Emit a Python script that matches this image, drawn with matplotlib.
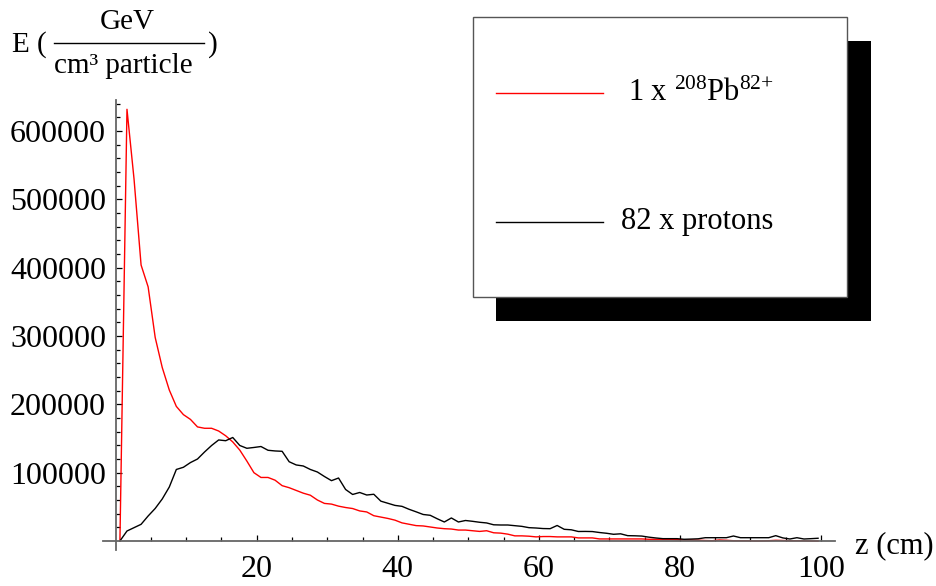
import numpy as np
import matplotlib.pyplot as plt
from matplotlib.patches import Rectangle
from matplotlib.lines import Line2D
from matplotlib.ticker import FixedLocator

plt.rcParams['font.family'] = 'Liberation Serif'
plt.rcParams['mathtext.fontset'] = 'custom'
plt.rcParams['mathtext.rm'] = 'Liberation Serif'
plt.rcParams['mathtext.it'] = 'Liberation Serif:italic'

# z positions (cm) of the samples
z = np.arange(100) + 0.6

# energy deposit, 1 x 208Pb82+
pb_vals = [0, 632000, 530000, 404000, 372000, 298000, 254000, 221000, 197000, 185000,
           178000, 167000, 165000, 165000, 161000, 154000, 145000, 133000, 117000, 100000,
           93000, 93000, 89000, 81000, 78000, 74000, 70000, 67000, 60000, 55000,
           54000, 51000, 49000, 47500, 44000, 42500, 37000, 35000, 33000, 30500,
           26500, 24500, 22500, 22000, 20500, 19000, 18000, 17500, 16000, 16000,
           15000, 14000, 15000, 12000, 11500, 10000, 7500, 7500, 7000, 6000,
           6500, 6500, 6000, 6000, 6000, 4500, 4500, 4500, 3000, 3000,
           3000, 3000, 3000, 3000, 3000, 2500, 2500, 2500, 2500, 2000,
           1500, 1500, 1200, 700, 400, 1500, 1000, 400, 400, 400,
           0, 100, 400, 1000, 700, 400, 400, 300, 0, 0]

# energy deposit, 82 x protons
p_vals = [0, 14600, 19500, 24400, 36600, 47600, 61500, 79000, 104700, 107900,
          114800, 120000, 130300, 139800, 147900, 146800, 151500, 139800, 135700, 136900,
          138300, 132800, 131800, 131300, 116000, 111300, 109800, 104700, 101000, 94400,
          88300, 92200, 75400, 68100, 71000, 67300, 68400, 58300, 55200, 52100,
          50700, 46400, 42700, 38800, 37600, 32500, 27800, 33700, 27800, 30000,
          28800, 27400, 26400, 23700, 23400, 23400, 22400, 21400, 19500, 19000,
          18200, 18000, 22700, 17100, 16400, 13900, 14000, 13800, 12400, 11300,
          9800, 10500, 7800, 7600, 7200, 5600, 4400, 3400, 3400, 3400,
          2500, 2800, 3200, 4800, 4800, 4800, 4800, 7300, 4800, 4800,
          4800, 4800, 4800, 7800, 4500, 2900, 4800, 2900, 3400, 4000]

x_major = [20, 40, 60, 80, 100]
y_major = [100000, 200000, 300000, 400000, 500000, 600000]

W, H = 936, 586
fig = plt.figure(figsize=(W / 100, H / 100), dpi=100)


def fx(px):
    return px / W


def fy(py):
    return 1 - py / H


ax = fig.add_axes([fx(103), fy(550), fx(835) - fx(103), fy(100) - fy(550)])
ax.plot(z, pb_vals, color='#ff0000', lw=1.0)
ax.plot(z, p_vals, color='black', lw=1.0)
ax.set_xlim(-1.8, 102.0)
ax.set_ylim(-13200, 645600)

for s in ['top', 'right']:
    ax.spines[s].set_visible(False)
for s in ['left', 'bottom']:
    ax.spines[s].set_position(('data', 0))
    ax.spines[s].set_color('#666666')
    ax.spines[s].set_linewidth(1.3)

ax.xaxis.set_major_locator(FixedLocator(x_major))
ax.xaxis.set_minor_locator(FixedLocator([v for v in range(5, 101, 5) if v not in x_major]))
ax.yaxis.set_major_locator(FixedLocator(y_major))
ax.yaxis.set_minor_locator(FixedLocator([v for v in range(20000, 640001, 20000) if v not in y_major]))
ax.set_xticklabels([str(v) for v in x_major])
ax.set_yticklabels([str(v) for v in y_major])
ax.tick_params(which='both', direction='in', color='black', width=0.9, labelsize=23)
ax.tick_params(which='major', length=4.5)
ax.tick_params(which='minor', length=3)
ax.tick_params(axis='x', pad=10)
ax.tick_params(axis='y', pad=7)
ax.patch.set_visible(False)

# axis labels
fig.text(fx(855), fy(546), 'z (cm)', fontsize=22, ha='left', va='center')
fig.text(fx(12), fy(45), 'E (', fontsize=21, ha='left', va='center')
fig.text(fx(127), fy(22), 'GeV', fontsize=21, ha='center', va='center')
fig.text(fx(123), fy(66), 'cm³ particle', fontsize=21, ha='center', va='center')
fig.add_artist(Line2D([fx(54), fx(204)], [fy(43), fy(43)], color='black', lw=1.0))
fig.text(fx(208), fy(45), ')', fontsize=21, ha='left', va='center')

# legend box with shadow
fig.add_artist(Rectangle((fx(496), fy(321)), fx(871) - fx(496), fy(41) - fy(321),
                         facecolor='black', edgecolor='none'))
fig.add_artist(Rectangle((fx(473), fy(297)), fx(847) - fx(473), fy(17) - fy(297),
                         facecolor='white', edgecolor='#555555', lw=1.0))
fig.add_artist(Line2D([fx(496), fx(603)], [fy(93), fy(93)], color='#ff0000', lw=1.0))
fig.add_artist(Line2D([fx(496), fx(603)], [fy(222), fy(222)], color='black', lw=1.0))
fig.text(fx(628), fy(93), r'1 x $^{208}\mathrm{Pb}^{82{+}}$', fontsize=22, ha='left', va='center')
fig.text(fx(621), fy(222), '82 x protons', fontsize=22, ha='left', va='center')

fig.savefig('out.png', dpi=100)
